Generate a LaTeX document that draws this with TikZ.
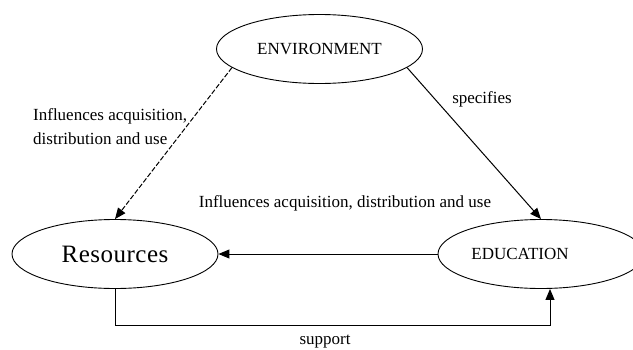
\documentclass[tikz,border=0pt]{standalone}
\usepackage{fontspec}
\setmainfont{Liberation Serif}
\usetikzlibrary{shapes.geometric,arrows.meta}
\begin{document}
\begin{tikzpicture}[x=1pt,y=-1pt,
  ell/.style={ellipse,draw,line width=0.9pt,inner sep=0pt,minimum width=206pt,minimum height=69pt},
  lbl/.style={font=\fontsize{17}{24}\selectfont,inner sep=0pt},
  conn/.style={line width=1pt,-{Triangle[length=11pt,width=9pt]}},
  dashedline/.style={dash pattern=on 5pt off 2pt}
]
\useasboundingbox (0,0) rectangle (633,349);
\clip (0,0) rectangle (633,349);
\node[ell,font=\fontsize{17}{20}\selectfont] (env) at (319.5,49) {ENVIRONMENT};
\node[ell,font=\fontsize{25}{28}\selectfont] (res) at (115,254) {R\kern0.5pt e\kern0.5pt s\kern0.5pt o\kern0.5pt u\kern0.5pt r\kern0.5pt c\kern0.5pt e\kern0.5pt s};
\node[ell,label={[font=\fontsize{17}{20}\selectfont,xshift=-21pt]center:EDUCATION}] (edu) at (541,254) {};
\draw[conn,dashedline] (env.192) -- (res.north);
\draw[conn] (env.-12) -- (edu.north);
\draw[conn] (edu.west) -- (res.east);
\draw[conn] (res.south) -- ++(0,37) -| ([xshift=9pt]edu.south);
\node[lbl,anchor=west,align=left] (l1) at (33,127) {Influences acquisition,\\distribution and use};
\node[lbl] (l2) at (482,99) {specifies};
\node[lbl] (l3) at (345,203) {Influences acquisition, distribution and use};
\node[lbl] (l4) at (325,342) {support};
\end{tikzpicture}
\end{document}
